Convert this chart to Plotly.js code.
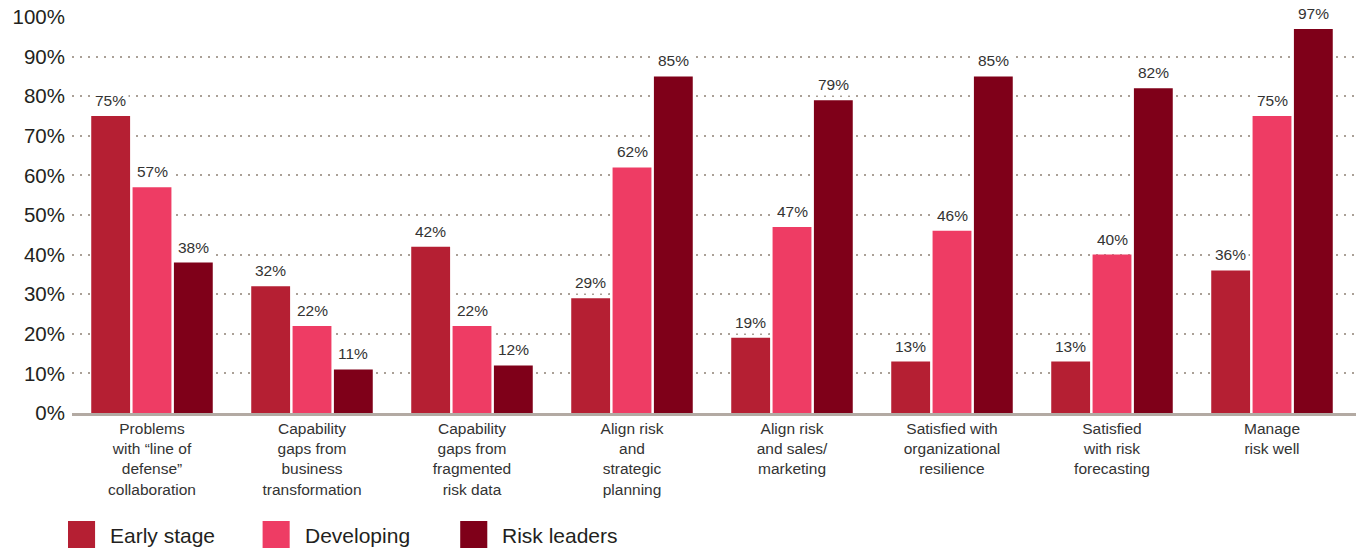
<!DOCTYPE html>
<html>
<head>
<meta charset="utf-8">
<script src="https://cdn.plot.ly/plotly-3.0.1.min.js"></script>
<style>html,body{margin:0;padding:0;background:#fff;}#chart{width:1356px;height:548px;}</style>
</head>
<body>
<div id="chart"></div>
<script>
const categories = [
  "Problems<br>with “line of<br>defense”<br>collaboration",
  "Capability<br>gaps from<br>business<br>transformation",
  "Capability<br>gaps from<br>fragmented<br>risk data",
  "Align risk<br>and<br>strategic<br>planning",
  "Align risk<br>and sales/<br>marketing",
  "Satisfied with<br>organizational<br>resilience",
  "Satisfied<br>with risk<br>forecasting",
  "Manage<br>risk well"
];
const seriesNames = ["Early stage", "Developing", "Risk leaders"];
const earlyStage = [75, 32, 42, 29, 19, 13, 13, 36];
const developing = [57, 22, 22, 62, 47, 46, 40, 75];
const riskLeaders = [38, 11, 12, 85, 79, 85, 82, 97];
const yTickVals = [0, 10, 20, 30, 40, 50, 60, 70, 80, 90, 100];
const yTickText = ["0%", "10%", "20%", "30%", "40%", "50%", "60%", "70%", "80%", "90%", "100%"];
const colors = ["#b51f33", "#ee3c64", "#7f0019"];

const values = [earlyStage, developing, riskLeaders];
const font = "Liberation Sans, Arial, Helvetica, sans-serif";
const bargap = 0.225;
const slot = (1 - bargap) / values.length;

const traces = values.map((v, i) => ({
  type: "bar",
  name: seriesNames[i],
  x: categories,
  y: v,
  marker: {color: colors[i]},
  showlegend: false,
  hoverinfo: "x+y"
}));

const shapes = [];
const annotations = [];

// Value labels above bars (placed on the axis scale at each bar's group slot)
values.forEach((v, i) => {
  v.forEach((d, k) => {
    annotations.push({
      xref: "x", yref: "y",
      x: k + (i - (values.length - 1) / 2) * slot,
      y: d, yanchor: "bottom", xanchor: "center", yshift: 4,
      showarrow: false, text: d + "%",
      bgcolor: "#ffffff", borderpad: 2,
      font: {family: font, size: 15.5, color: "#333333"}
    });
  });
});

// Custom legend (large squares)
const legendX = [68, 262, 459];
seriesNames.forEach((n, i) => {
  shapes.push({type: "rect", xref: "paper", yref: "paper",
    x0: (legendX[i] - 72) / 1280, x1: (legendX[i] + 27 - 72) / 1280,
    y0: (413 - 548) / 396, y1: (413 - 521) / 396,
    fillcolor: colors[i], line: {width: 0}});
  annotations.push({xref: "paper", yref: "paper",
    x: (legendX[i] + 40 - 72) / 1280, y: (413 - 535) / 396,
    xanchor: "left", yanchor: "middle", showarrow: false,
    text: n, font: {family: font, size: 21, color: "#231f20"}});
});

const layout = {
  width: 1356, height: 548,
  margin: {l: 72, r: 0, t: 17, b: 135},
  paper_bgcolor: "#ffffff", plot_bgcolor: "#ffffff",
  barmode: "group",
  bargap: bargap,
  bargroupgap: 0.06,
  showlegend: false,
  xaxis: {
    type: "category",
    range: [-0.5, 7.525],
    showgrid: false,
    showline: true, linecolor: "#b3aaa3", linewidth: 2.5,
    ticks: "",
    tickfont: {family: font, size: 15.5, color: "#333333"},
    automargin: false
  },
  yaxis: {
    range: [0, 100],
    tickvals: yTickVals, ticktext: yTickText,
    showgrid: true, gridcolor: "#aaa097", gridwidth: 2, griddash: "2px,6px",
    zeroline: false, showline: false, ticks: "",
    ticklabelstandoff: 6,
    tickfont: {family: font, size: 20.5, color: "#231f20"},
    automargin: false
  },
  shapes: shapes,
  annotations: annotations,
  font: {family: font}
};

Plotly.newPlot("chart", traces, layout, {displayModeBar: false, staticPlot: true});
</script>
</body>
</html>
